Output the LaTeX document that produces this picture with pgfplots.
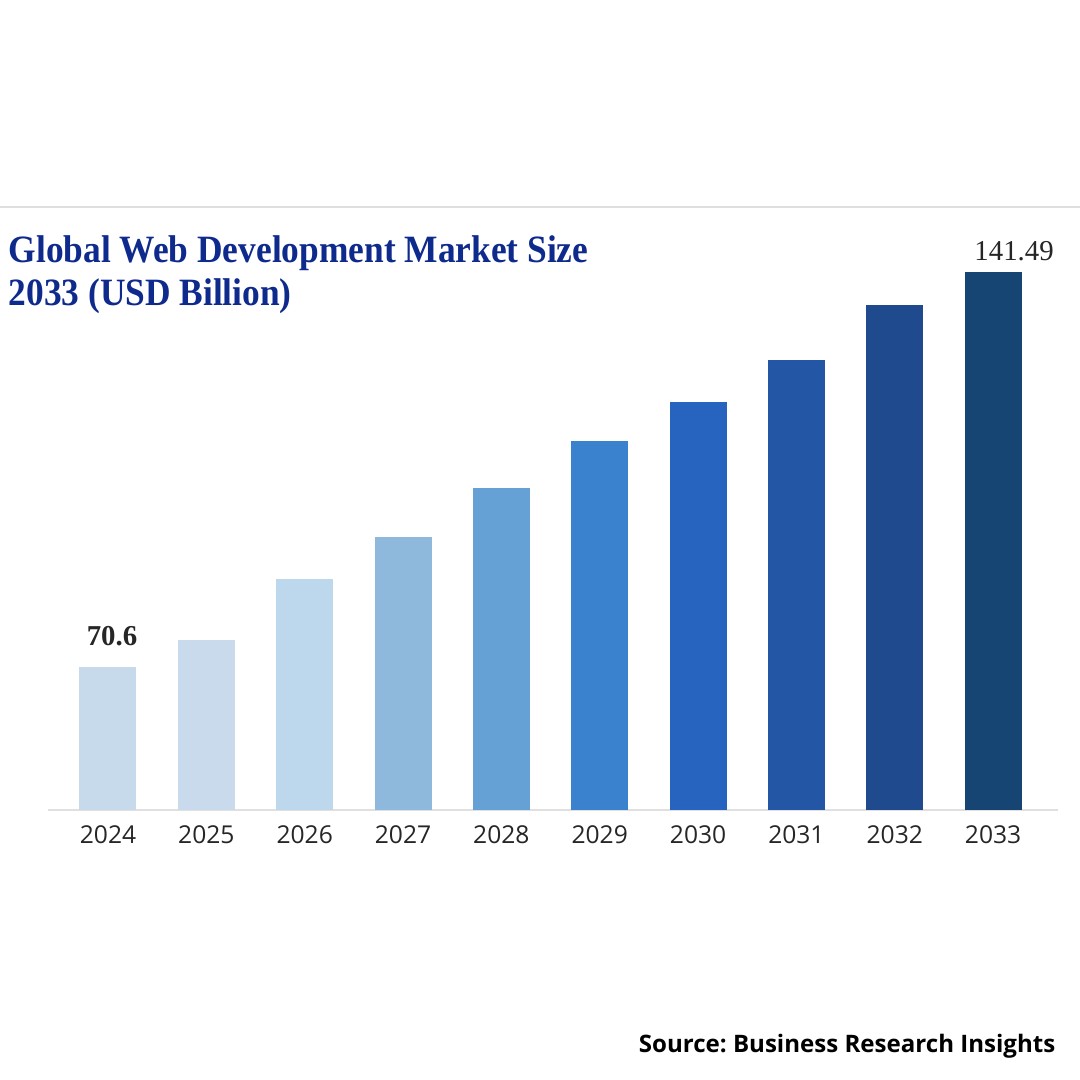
\documentclass[border=0pt]{standalone}
\usepackage{pgfplots}
\pgfplotsset{compat=1.18}
\usepackage{fontspec}
\setmainfont{Liberation Serif}
\newfontfamily\titlefont[FakeStretch=0.915]{Liberation Serif}
\newfontfamily\tickfont{Open Sans}
\newfontfamily\srcfont{Open Sans}
\definecolor{titleblue}{RGB}{14,42,140}
\definecolor{c0}{HTML}{C6DAEC}
\definecolor{c1}{HTML}{C8DAEB}
\definecolor{c2}{HTML}{BDD8EC}
\definecolor{c3}{HTML}{8FB9DC}
\definecolor{c4}{HTML}{66A1D5}
\definecolor{c5}{HTML}{3A82CD}
\definecolor{c6}{HTML}{2664C0}
\definecolor{c7}{HTML}{2456A6}
\definecolor{c8}{HTML}{1F4B8E}
\definecolor{c9}{HTML}{164574}
\frenchspacing
\begin{document}
\begin{tikzpicture}
\path[use as bounding box, fill=white] (0,0) rectangle (10.8,10.8);
\draw[line width=0.2mm, color=black!13] (0,8.73) -- (10.8,8.73);
\node[anchor=base west, inner sep=0, text=titleblue, font=\titlefont\fontsize{11}{13}\selectfont\bfseries] at (0.08,8.17) {Global Web Development Market Size};
\node[anchor=base west, inner sep=0, text=titleblue, font=\titlefont\fontsize{11}{13}\selectfont\bfseries] at (0.08,7.74) {2033 (USD Billion)};
\node[anchor=base east, inner sep=0, font=\srcfont\bfseries\fontsize{6.85}{8}\selectfont] at (10.56,0.27) {Source: Business Research Insights};
\begin{axis}[at={(0.48cm,2.70cm)}, anchor=south west, scale only axis,
  width=10.10cm, height=5.38cm,
  xmin=-0.61, xmax=9.66, ymin=44.94, ymax=141.49,
  axis y line=none, axis x line*=bottom,
  x axis line style={draw=black!12, line width=0.15mm, -},
  xtick={0,1,2,3,4,5,6,7,8,9},
  xticklabels={2024,2025,2026,2027,2028,2029,2030,2031,2032,2033},
  major tick length=0, ytick=\empty,
  ybar, bar width=0.57cm, bar shift=0pt,
  clip mode=individual,
  xticklabel style={font=\tickfont\fontsize{7.0}{8}\selectfont, text=black!85, anchor=north, inner sep=0pt, yshift=-1.5mm},
  nodes near coords style={anchor=south, inner sep=0pt},
]
\addplot[fill=c0, draw=none, nodes near coords={\textbf{70.6}}, nodes near coords style={xshift=0.4mm, yshift=2mm, font=\fontsize{8.2}{9}\selectfont, text=black!85}] coordinates {(0,70.6)};
\addplot[fill=c1, draw=none] coordinates {(1,75.45)};
\addplot[fill=c2, draw=none] coordinates {(2,86.4)};
\addplot[fill=c3, draw=none] coordinates {(3,93.9)};
\addplot[fill=c4, draw=none] coordinates {(4,102.7)};
\addplot[fill=c5, draw=none] coordinates {(5,111.2)};
\addplot[fill=c6, draw=none] coordinates {(6,118.2)};
\addplot[fill=c7, draw=none] coordinates {(7,125.7)};
\addplot[fill=c8, draw=none] coordinates {(8,135.6)};
\addplot[fill=c9, draw=none, nodes near coords={141.49}, nodes near coords style={xshift=2.1mm, yshift=1mm, font=\fontsize{8.2}{9}\selectfont, text=black!85}] coordinates {(9,141.49)};
\end{axis}
\end{tikzpicture}
\end{document}
